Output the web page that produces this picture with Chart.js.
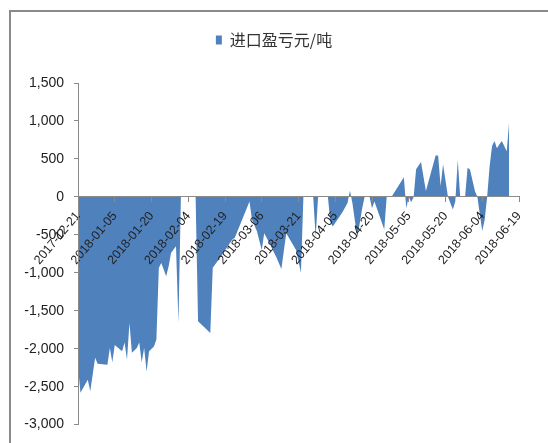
<!DOCTYPE html>
<html><head><meta charset="utf-8">
<script src="https://cdn.jsdelivr.net/npm/chart.js@4.4.0/dist/chart.umd.min.js"></script>
<style>
html,body{margin:0;padding:0;background:#fff;overflow:hidden}
#wrap{position:relative;width:548px;height:443px;overflow:hidden}
#frame{position:absolute;left:9px;top:10px;width:700px;height:600px;border-top:2px solid #8a8a8a;border-left:2px solid #8a8a8a}
canvas{position:absolute;left:0;top:0}
</style></head><body>
<div id="wrap"><div id="frame"></div><canvas id="c" width="548" height="443"></canvas></div>
<script>
const seriesName = '进口盈亏元/吨';
const startDate = '2017-12-21';
const tickLabels = ['2017-12-21','2018-01-05','2018-01-20','2018-02-04','2018-02-19','2018-03-06','2018-03-21','2018-04-05','2018-04-20','2018-05-05','2018-05-20','2018-06-04','2018-06-19'];
const yTickValues = [-3000,-2500,-2000,-1500,-1000,-500,0,500,1000,1500];
const dates = [
 '2017-12-21','2017-12-22','2017-12-25','2017-12-26','2017-12-28','2017-12-29','2018-01-02','2018-01-03','2018-01-04','2018-01-05',
 '2018-01-08','2018-01-09','2018-01-10','2018-01-11','2018-01-12','2018-01-14','2018-01-15','2018-01-16','2018-01-17','2018-01-18',
 '2018-01-19','2018-01-21','2018-01-22','2018-01-23','2018-01-24','2018-01-26','2018-01-27','2018-01-28','2018-01-30','2018-01-31',
 '2018-02-01','2018-02-07','2018-02-08','2018-02-13','2018-02-14','2018-02-17','2018-02-22','2018-02-23','2018-03-01','2018-03-02',
 '2018-03-04','2018-03-06','2018-03-07','2018-03-09','2018-03-12','2018-03-14','2018-03-16','2018-03-20','2018-03-22','2018-03-23',
 '2018-03-27','2018-03-28','2018-03-29','2018-04-02','2018-04-03','2018-04-04','2018-04-08','2018-04-10','2018-04-11','2018-04-12',
 '2018-04-14','2018-04-16','2018-04-17','2018-04-19','2018-04-20','2018-04-21','2018-04-25','2018-04-26','2018-04-28','2018-05-03',
 '2018-05-04','2018-05-05','2018-05-06','2018-05-07','2018-05-08','2018-05-10','2018-05-12','2018-05-16','2018-05-17','2018-05-18',
 '2018-05-19','2018-05-21','2018-05-23','2018-05-24','2018-05-25','2018-05-26','2018-05-28','2018-05-29','2018-05-30','2018-06-01',
 '2018-06-02','2018-06-04','2018-06-05','2018-06-06','2018-06-07','2018-06-08','2018-06-09','2018-06-10','2018-06-11','2018-06-12',
 '2018-06-14','2018-06-15'];
const values = [
 -2230,-2580,-2410,-2560,-2120,-2200,-2210,-1990,-2180,-1950,
 -2035,-1920,-2145,-1660,-2055,-1990,-1920,-2180,-1990,-2300,
 -2035,-1970,-1880,-935,-870,-1045,-913,-737,-650,-1660,
 0,0,-1640,-1793,-935,-803,-560,-540,-60,-300,
 -450,-700,-480,-600,-800,-950,-480,-700,-1000,0,
 0,-530,0,0,-330,-390,-200,-80,80,-80,
 -540,-150,0,0,-150,-60,-430,0,0,260,
 -150,0,-70,0,363,460,77,548,540,143,
 429,0,-165,-60,486,0,0,385,360,77,
 0,-450,-300,0,400,670,737,640,693,737,
 600,1000];

const dayOf = s => { const [y,m,d] = s.split('-').map(Number); const [y0,m0,d0] = startDate.split('-').map(Number);
  return Math.round((Date.UTC(y,m-1,d) - Date.UTC(y0,m0-1,d0)) / 864e5); };
const points = dates.map((d,i) => ({x: dayOf(d), y: values[i]}));
const tickStep = dayOf(tickLabels[1]);
const xMax = dayOf(tickLabels[tickLabels.length-1]);

const legendSpacer = {
  id: 'legendSpacer',
  beforeLayout(chart) {
    const lg = chart.legend;
    if (lg && !lg._spaced) {
      const f = lg.fit;
      lg.fit = function() { f.call(this); this.height += 25; };
      lg._spaced = true;
    }
  }
};

const axisColor = '#8a8a8a';
const labelFont = {family: '"Liberation Sans", Arial, sans-serif', size: 12.5};

new Chart(document.getElementById('c'), {
  type: 'line',
  data: { datasets: [{
    label: seriesName,
    data: points,
    fill: 'origin',
    backgroundColor: '#4F81BD',
    borderColor: '#4F81BD',
    borderWidth: 0,
    pointRadius: 0,
    tension: 0
  }]},
  options: {
    responsive: false,
    animation: false,
    devicePixelRatio: 1,
    layout: { padding: {left: 14, right: 14, top: 0, bottom: 18} },
    plugins: {
      tooltip: {enabled: false},
      legend: {
        display: true, position: 'top', align: 'center',
        labels: { boxWidth: 6, boxHeight: 9, padding: 32, color: '#333',
          font: {family: '"Noto Sans CJK SC", sans-serif', size: 16} }
      }
    },
    scales: {
      x: {
        type: 'linear', min: 0, max: xMax, position: {y: 0},
        grid: { display: true, drawOnChartArea: false, drawTicks: true, tickLength: 5, color: axisColor, z: 1 },
        border: { display: true, color: axisColor, width: 1, z: 1 },
        ticks: { stepSize: tickStep, autoSkip: false, maxRotation: 50, minRotation: 50, padding: 7, z: 1,
          color: '#222', font: labelFont,
          callback: v => tickLabels[Math.round(v / tickStep)] || '' },
        afterFit(s) { s.paddingLeft = 0; s.paddingRight = 29; s.height = 0; }
      },
      y: {
        min: yTickValues[0], max: yTickValues[yTickValues.length-1],
        grid: { display: true, drawOnChartArea: false, drawTicks: true, tickLength: 4, color: axisColor, z: 1 },
        border: { display: true, color: axisColor, width: 1, z: 1 },
        afterBuildTicks(s) { s.ticks = yTickValues.map(v => ({value: v})); },
        ticks: { padding: 10, color: '#222', z: 1, font: {family: '"Liberation Sans", Arial, sans-serif', size: 14},
          callback: v => v.toLocaleString('en-US') },
        afterFit(s) { s.width = 64; }
      }
    }
  },
  plugins: [legendSpacer]
});
</script>
</body></html>
